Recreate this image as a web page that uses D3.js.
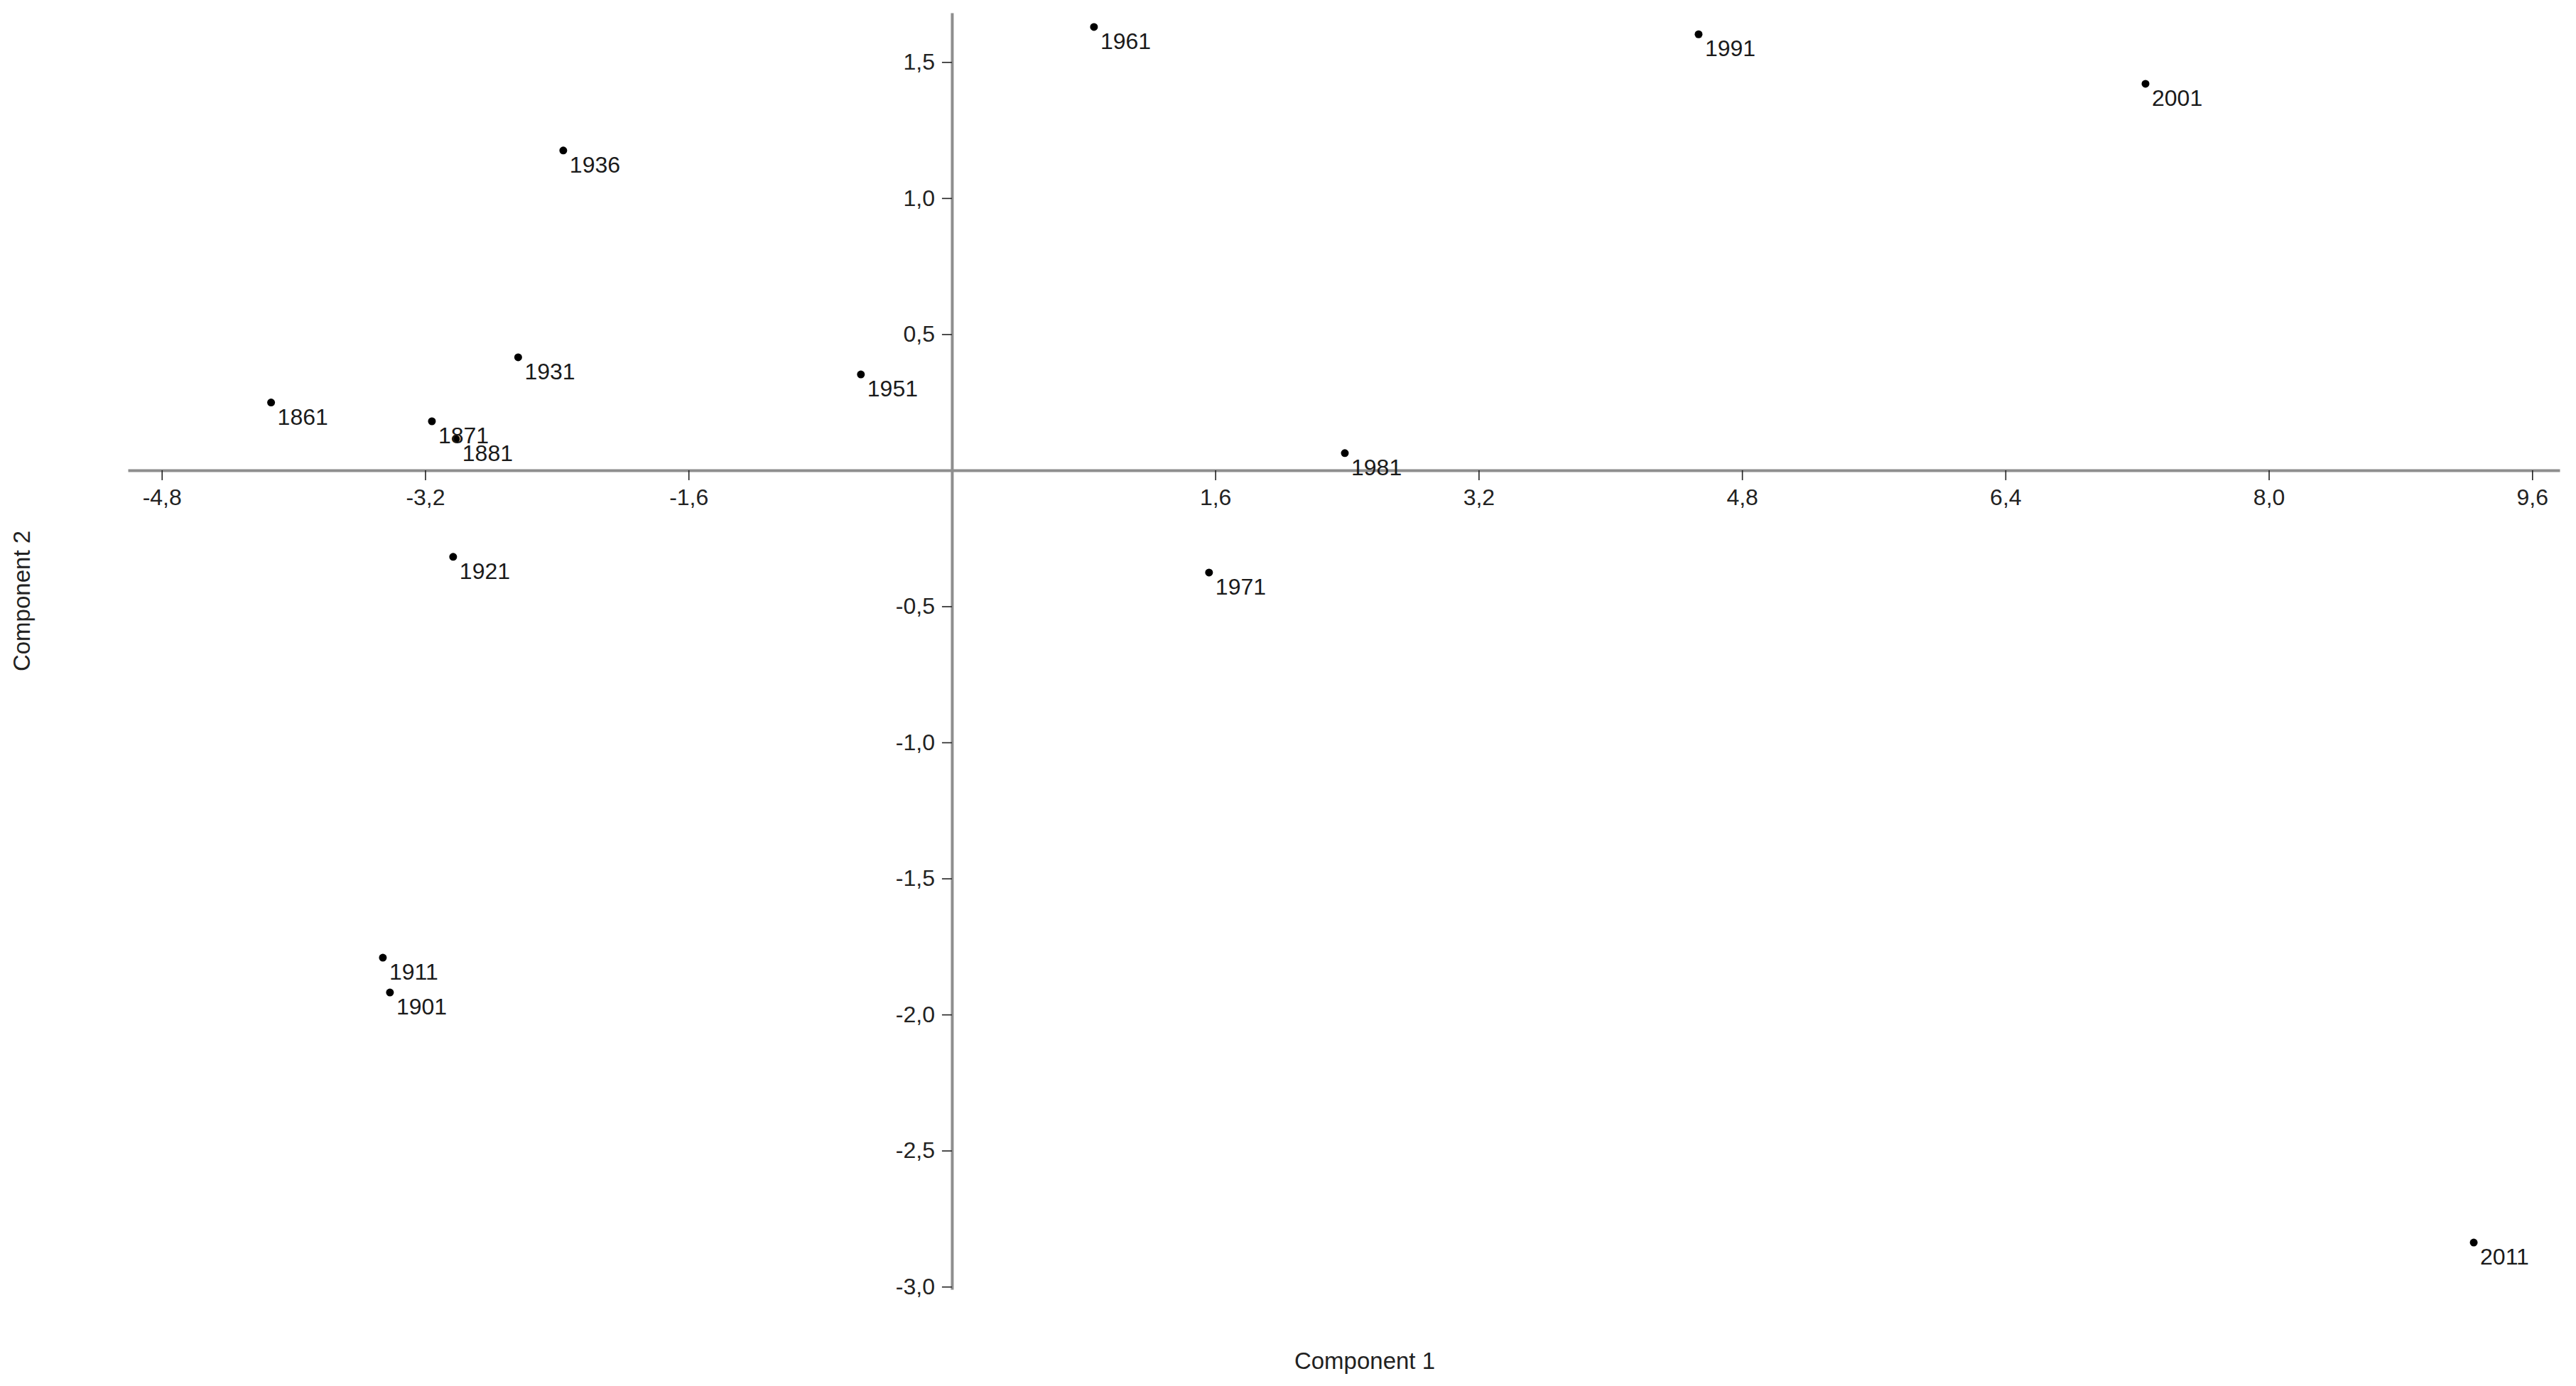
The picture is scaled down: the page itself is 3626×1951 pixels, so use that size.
<!DOCTYPE html>
<html>
<head>
<meta charset="utf-8">
<script src="https://cdn.jsdelivr.net/npm/d3@7"></script>
<style>
  html, body { margin: 0; padding: 0; background: #ffffff; }
  svg { display: block; }
  text { font-family: "Liberation Sans", Arial, sans-serif; }
</style>
</head>
<body>
<svg id="chart" width="3626" height="1951"></svg>
<script>
// ---- data ----
const labels = ["1861","1871","1881","1901","1911","1921","1931","1936","1951","1961","1971","1981","1991","2001","2011"];
const comp1  = [-4.136,-3.159,-3.013,-3.414,-3.457,-3.030,-2.635,-2.361,-0.553,0.863,1.562,2.387,4.536,7.251,9.245];
const comp2  = [0.249,0.180,0.115,-1.919,-1.791,-0.318,0.415,1.175,0.352,1.629,-0.376,0.063,1.602,1.420,-2.838];
const xTicks = [-4.8,-3.2,-1.6,1.6,3.2,4.8,6.4,8.0,9.6];
const yTicks = [1.5,1.0,0.5,-0.5,-1.0,-1.5,-2.0,-2.5,-3.0];
const xTitle = "Component 1";
const yTitle = "Component 2";

// ---- layout ----
const svg = d3.select("#chart");
const x = d3.scaleLinear().domain([-5.006, 9.767]).range([180, 3603]);
const y = d3.scaleLinear().domain([1.681, -3.01]).range([18, 1815]);
const fmt = v => d3.format(".1f")(v).replace("\u2212", "-").replace(".", ",");

const axisColor = "#8e8e8e";
const fontSize = 32;

// x axis through y=0
const gx = svg.append("g")
  .attr("transform", `translate(0,${y(0)})`)
  .call(d3.axisBottom(x).tickValues(xTicks).tickFormat(fmt).tickSize(14).tickSizeOuter(0).tickPadding(12));
// y axis through x=0
const gy = svg.append("g")
  .attr("transform", `translate(${x(0)},0)`)
  .call(d3.axisLeft(y).tickValues(yTicks).tickFormat(fmt).tickSize(14).tickSizeOuter(0).tickPadding(10));

[gx, gy].forEach(g => {
  g.select(".domain").attr("stroke", axisColor).attr("stroke-width", 4);
  g.selectAll(".tick line").attr("stroke", "#222").attr("stroke-width", 1.6);
  g.selectAll(".tick text").attr("fill", "#222").style("font-size", fontSize + "px")
    .style("font-family", "'Liberation Sans', Arial, sans-serif");
});

// points
const data = labels.map((l, i) => ({ label: l, c1: comp1[i], c2: comp2[i] }));
const pts = svg.append("g");
pts.selectAll("circle").data(data).join("circle")
  .attr("cx", d => x(d.c1))
  .attr("cy", d => y(d.c2))
  .attr("r", 5.5)
  .attr("fill", "#000");
pts.selectAll("text").data(data).join("text")
  .attr("x", d => x(d.c1) + 9)
  .attr("y", d => y(d.c2) + 31)
  .attr("fill", "#1a1a1a")
  .style("font-size", fontSize + "px")
  .text(d => d.label);

// axis titles
svg.append("text")
  .attr("x", 1921).attr("y", 1927)
  .attr("text-anchor", "middle")
  .attr("fill", "#222")
  .style("font-size", "33px")
  .text(xTitle);
svg.append("text")
  .attr("transform", "translate(42,846) rotate(-90)")
  .attr("text-anchor", "middle")
  .attr("fill", "#222")
  .style("font-size", "33px")
  .text(yTitle);
</script>
</body>
</html>
